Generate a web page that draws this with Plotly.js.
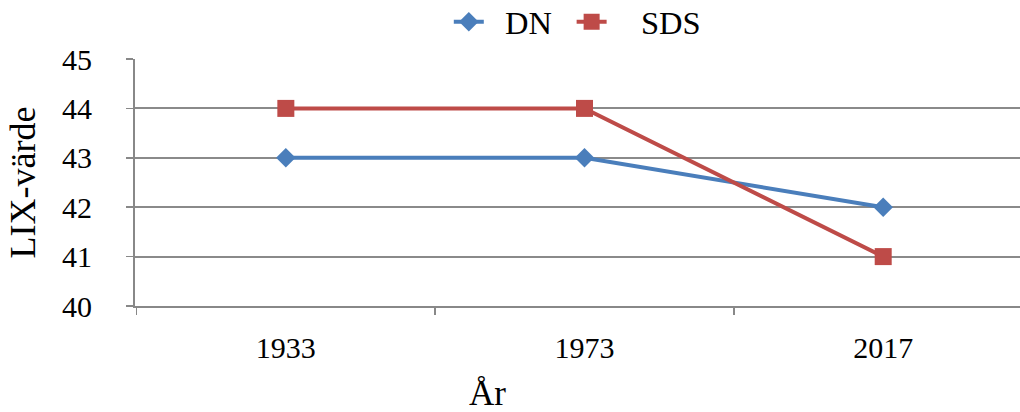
<!DOCTYPE html>
<html><head><meta charset="utf-8">
<script src="https://cdn.plot.ly/plotly-3.0.1.min.js"></script>
<style>html,body{margin:0;padding:0;background:#fff}#c{width:1020px;height:412px}</style>
</head><body><div id="c"></div>
<script>
const years = ['1933', '1973', '2017'];
const dnValues = [43, 43, 42];
const sdsValues = [44, 44, 41];
const yTicks = [40, 41, 42, 43, 44, 45];
const seriesNames = ['DN', 'SDS'];
const xTitle = 'År';
const yTitle = 'LIX-värde';

const font = 'Liberation Serif, Times New Roman, serif';
const nb = '\u00a0', th = '\u2009';
const traces = [
  {x: years, y: dnValues, name: nb + nb + seriesNames[0] + nb + th, type: 'scatter', mode: 'lines+markers',
   line: {color: '#4a7ebb', width: 4}, marker: {symbol: 'diamond', size: 15, color: '#4a7ebb'}},
  {x: years, y: sdsValues, name: nb + nb + th + th + seriesNames[1], type: 'scatter', mode: 'lines+markers',
   line: {color: '#be4b48', width: 4}, marker: {symbol: 'square', size: 17, color: '#be4b48'}}
];
const layout = {
  width: 1020, height: 412,
  margin: {l: 135, r: 0, t: 59, b: 106},
  paper_bgcolor: '#fff', plot_bgcolor: '#fff',
  font: {family: font, color: '#000', size: 30},
  showlegend: true,
  legend: {orientation: 'h', xref: 'container', x: 0.44, xanchor: 'left', yref: 'container', y: 1 - 22 / 412, yanchor: 'middle',
    font: {family: font, size: 32.5}},
  xaxis: {type: 'category', range: [-0.505, 2.458], tickson: 'boundaries',
    showgrid: false, zeroline: false, showline: true, linecolor: '#888', linewidth: 2,
    ticks: 'outside', ticklen: 7, tickwidth: 1.5, tickcolor: '#888', ticklabelstandoff: 14,
    tickfont: {family: font, size: 30}},
  yaxis: {range: [40, 45], tickvals: yTicks, ticktext: yTicks.map(String),
    showgrid: true, gridcolor: '#8a8a8a', gridwidth: 2, zeroline: false,
    showline: true, linecolor: '#888', linewidth: 2,
    ticks: 'outside', ticklen: 7, tickwidth: 1.5, tickcolor: '#888', ticklabelstandoff: 28,
    tickfont: {family: font, size: 30},
    title: {text: yTitle, font: {family: font, size: 36}, standoff: 15}},
  annotations: [
    {text: xTitle, xref: 'paper', yref: 'paper', x: (487 - 135) / 885, y: -(393 - 306) / 247,
     xanchor: 'center', yanchor: 'middle', showarrow: false, font: {family: font, size: 35}}
  ]
};
Plotly.newPlot('c', traces, layout, {displayModeBar: false, staticPlot: true});
</script></body></html>
